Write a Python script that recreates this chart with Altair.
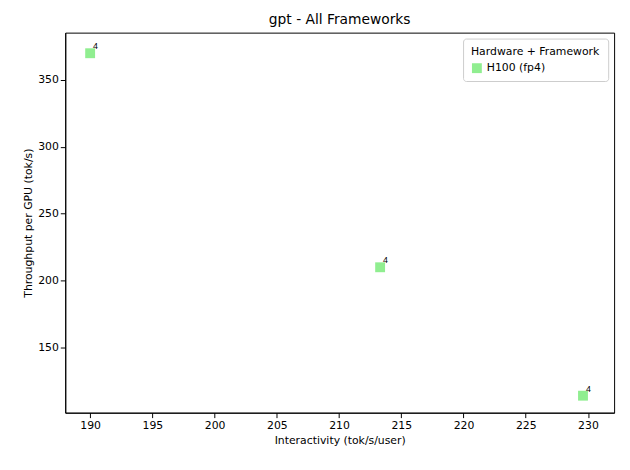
import altair as alt
import pandas as pd

# values
interactivity = [190.0, 213.3, 229.6]
throughput = [370.0, 210.0, 114.0]
labels = ["4", "4", "4"]
series = ["H100 (fp4)"] * 3

df = pd.DataFrame({"x": interactivity, "y": throughput, "label": labels, "hw": series})

base = alt.Chart(df).encode(
    x=alt.X("x:Q", title="Interactivity (tok/s/user)",
            scale=alt.Scale(domain=[188.0, 232.1], nice=False, zero=False),
            axis=alt.Axis(values=list(range(190, 231, 5)), grid=False)),
    y=alt.Y("y:Q", title="Throughput per GPU (tok/s)",
            scale=alt.Scale(domain=[101.3, 385.4], nice=False, zero=False),
            axis=alt.Axis(values=[150, 200, 250, 300, 350], grid=False)),
)

points = base.mark_square(size=100, opacity=1).encode(
    color=alt.Color("hw:N", title="Hardware + Framework",
                    scale=alt.Scale(range=["#90ee90"]),
                    legend=alt.Legend(orient="top-right", symbolType="square",
                                      symbolSize=100, symbolOpacity=1))
)

text = base.mark_text(align="left", dx=3, dy=-7, fontSize=9, color="black").encode(
    text="label:N"
)

chart = (points + text).properties(
    width=556, height=385,
    title=alt.TitleParams("gpt - All Frameworks", fontSize=14, fontWeight="normal"),
    autosize=alt.AutoSizeParams(type="none"),
    padding={"left": 58, "top": 22, "right": 8, "bottom": 47},
).configure_view(stroke="black", strokeWidth=1).configure_axis(
    domainColor="black", tickColor="black", labelColor="black", titleColor="black",
    labelFontSize=11, titleFontSize=11, titleFontWeight="normal", labelFont="DejaVu Sans",
    titleFont="DejaVu Sans",
).configure_title(font="DejaVu Sans", offset=6).configure_legend(
    strokeColor="#cccccc", fillColor="white", padding=8, cornerRadius=3,
    titleFont="DejaVu Sans", titleFontWeight="normal", titleFontSize=11,
    labelFont="DejaVu Sans", labelFontSize=11, offset=6,
)

chart.save("out.html", embed_options={"renderer": "svg", "actions": False})
